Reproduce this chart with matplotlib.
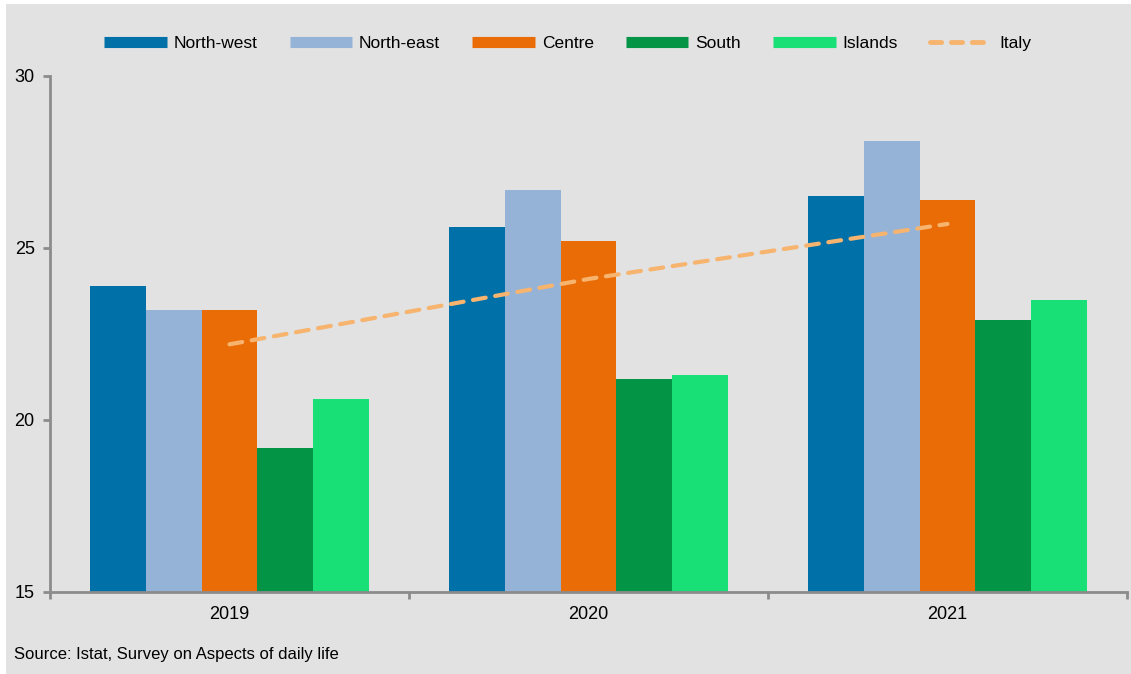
import matplotlib.pyplot as plt
import numpy as np
from matplotlib.lines import Line2D
from matplotlib.patches import Rectangle

plt.rcParams['font.family'] = ['Liberation Sans', 'DejaVu Sans']

# data
years = ["2019", "2020", "2021"]
regions = ["North-west", "North-east", "Centre", "South", "Islands"]
north_west = [23.9, 25.6, 26.5]
north_east = [23.2, 26.7, 28.1]
centre = [23.2, 25.2, 26.4]
south = [19.2, 21.2, 22.9]
islands = [20.6, 21.3, 23.5]
italy = [22.2, 24.1, 25.7]

region_values = [north_west, north_east, centre, south, islands]
region_colors = ["#0070a8", "#95b3d7", "#ea6c07", "#039445", "#18e077"]
italy_color = "#f6b46f"
bg = "#e2e2e2"

fig = plt.figure(figsize=(11.31, 6.74), dpi=100)
fig.patch.set_facecolor("white")
fig.patches.append(Rectangle((6 / 1131, 0), 1, 670 / 674, transform=fig.transFigure,
                             facecolor=bg, edgecolor="none", zorder=-10))

ax = fig.add_axes([50 / 1131, 82 / 674, 1077 / 1131, 516 / 674])
ax.set_facecolor(bg)

x = np.arange(len(years))
width = 0.155
for i, (vals, col) in enumerate(zip(region_values, region_colors)):
    ax.bar(x + (i - 2) * width, np.array(vals) - 15, width, bottom=15,
           color=col, zorder=2)

ax.plot(x, italy, color=italy_color, lw=3, dashes=(3.1, 2.3),
        dash_capstyle="round", zorder=3)

ax.set_xlim(-0.5, 2.5)
ax.set_ylim(15, 30)
ax.set_yticks([15, 20, 25, 30])
ax.set_xticks(x)
ax.set_xticklabels(years)
ax.set_xticks([-0.5, 0.5, 1.5, 2.5], minor=True)
ax.tick_params(axis="x", which="major", length=0, pad=10, labelsize=13)
ax.tick_params(axis="x", which="minor", length=5, width=2, color="#8c8c8c")
ax.tick_params(axis="y", length=5, width=2, color="#8c8c8c", pad=6, labelsize=13)

for s in ["top", "right"]:
    ax.spines[s].set_visible(False)
for s in ["left", "bottom"]:
    ax.spines[s].set_color("#8c8c8c")
    ax.spines[s].set_linewidth(2)

handles = [Line2D([], [], color=c, lw=8, solid_capstyle="butt") for c in region_colors]
handles.append(Line2D([], [], color=italy_color, lw=3.5, dashes=(2.3, 2.0),
                      dash_capstyle="round"))
fig.legend(handles, regions + ["Italy"], loc="center", bbox_to_anchor=(0.502, 1 - 43 / 674),
           ncol=6, frameon=False, fontsize=12.5, handlelength=3.6, handletextpad=0.4,
           columnspacing=1.85)

fig.text(14 / 1131, 1 - 654 / 674, "Source: Istat, Survey on Aspects of daily life",
         fontsize=12, va="center")

fig.savefig("out.png", dpi=100, facecolor=fig.get_facecolor())
